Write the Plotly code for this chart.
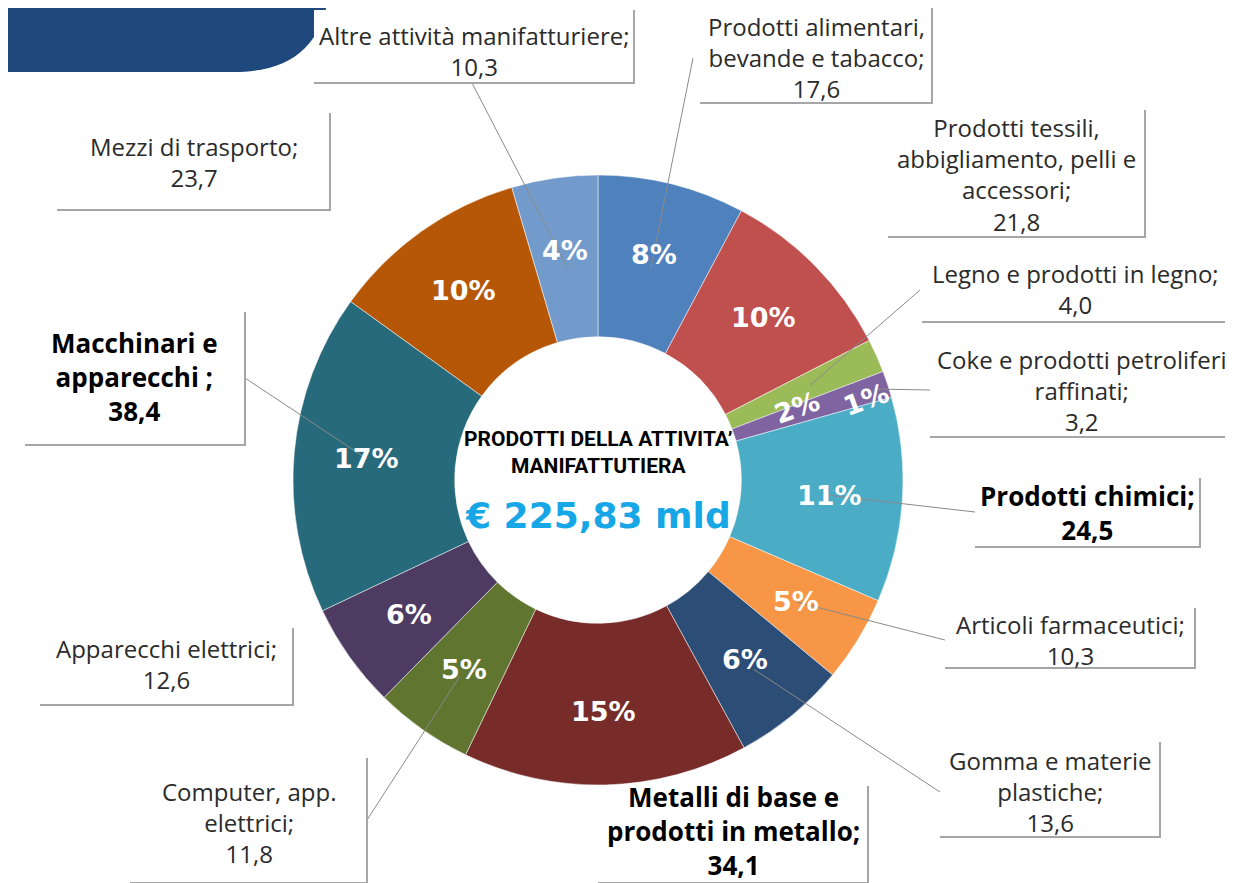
import math
import plotly.graph_objects as go

# Dati: valore aggiunto per settore (mld di euro)
settori = ["Prodotti alimentari, bevande e tabacco", "Prodotti tessili, abbigliamento, pelli e accessori",
           "Legno e prodotti in legno", "Coke e prodotti petroliferi raffinati", "Prodotti chimici",
           "Articoli farmaceutici", "Gomma e materie plastiche", "Metalli di base e prodotti in metallo",
           "Computer, app. elettrici", "Apparecchi elettrici", "Macchinari e apparecchi",
           "Mezzi di trasporto", "Altre attività manifatturiere"]
etichette = ["Prodotti alimentari,<br>bevande e tabacco;", "Prodotti tessili,<br>abbigliamento, pelli e<br>accessori;",
             "Legno e prodotti in legno;", "Coke e prodotti petroliferi<br>raffinati;", "Prodotti chimici;",
             "Articoli farmaceutici;", "Gomma e materie<br>plastiche;", "Metalli di base e<br>prodotti in metallo;",
             "Computer, app.<br>elettrici;", "Apparecchi elettrici;", "Macchinari e<br>apparecchi ;",
             "Mezzi di trasporto;", "Altre attività manifatturiere;"]
valori = [17.6, 21.8, 4.0, 3.2, 24.5, 10.3, 13.6, 34.1, 11.8, 12.6, 38.4, 23.7, 10.3]
percentuali = ["8%", "10%", "2%", "1%", "11%", "5%", "6%", "15%", "5%", "6%", "17%", "10%", "4%"]
grassetto = [False, False, False, False, True, False, False, True, False, False, True, False, False]
titolo_centro = "PRODOTTI DELLA ATTIVITA’<br>MANIFATTUTIERA"
totale_txt = "€ 225,83 mld"

colori = ["#4F81BD", "#C0504D", "#9BBB59", "#8064A2", "#4BACC6", "#F79646", "#2C4D75",
          "#772C2A", "#5F7530", "#4D3B62", "#276A7C", "#B65708", "#729ACA"]

# la pagina ha un margine di 8px: la figura parte da (8, 8)
OFF = 8
FW, FH = 1233 - OFF, 883 - OFF
cx, cy, R = 598, 480, 305

def X(p):
    return (p - OFF) / FW

def Y(p):
    return 1 - (p - OFF) / FH

# box: (x0, y0, x1, y1), centro testo y, punto di attacco linea, raggio della linea (px)
box = [
    ((700, 8, 932, 103), 57, (693, 58), 218),
    ((888, 110, 1145, 237), 174, None, None),
    ((922, 258, 1228, 322), 289, (920, 290), 232),
    ((930, 343, 1233, 437), 390, (930, 390), 290),
    ((975, 478, 1200, 547), 513, (975, 512), 232),
    ((945, 608, 1195, 668), 640, (945, 640), 234),
    ((940, 742, 1160, 837), 791, (940, 792), 245),
    ((598, 786, 868, 883), 831, None, None),
    ((130, 758, 367, 883), 822, (367, 820), 240),
    ((40, 628, 293, 705), 664, None, None),
    ((25, 312, 245, 445), 377, (245, 378), 232),
    ((57, 113, 330, 210), 162, None, None),
    ((314, 10, 634, 83), 51, (472, 83), 215),
]

tot = sum(valori)

fig = go.Figure(go.Pie(
    labels=settori, values=valori, textinfo="none",
    sort=False, direction="clockwise", rotation=0, hole=0.47,
    marker=dict(colors=colori, line=dict(color="white", width=0.5)),
    domain=dict(x=[X(cx - R), X(cx + R)], y=[Y(cy + R), Y(cy - R)]),
    showlegend=False, hovertemplate="%{label}: %{value}<extra></extra>",
))

shapes = []
annotations = []

# intestazione blu in alto a sinistra
shapes.append(dict(type="path", xref="paper", yref="paper",
                   path=(f"M {X(-10)} {Y(-10)} L {X(330)} {Y(-10)} L {X(328)} {Y(0)} "
                         f"C {X(320)} {Y(40)} {X(298)} {Y(72)} {X(233)} {Y(72)} L {X(-10)} {Y(72)} Z"),
                   fillcolor="#1F497D", line=dict(width=0)))

cum = 0
for i, v in enumerate(valori):
    ang = math.radians((cum + v / 2) / tot * 360)
    cum += v
    (x0, y0, x1, y1), ty, att, rl = box[i]
    if att is not None:
        ex = cx + rl * math.sin(ang)
        ey = cy - rl * math.cos(ang)
        shapes.append(dict(type="line", xref="paper", yref="paper",
                           x0=X(att[0]), y0=Y(att[1]), x1=X(ex), y1=Y(ey),
                           line=dict(color="#8a8a8a", width=1)))
    # etichette percentuali sulle fette (le due fette piccole ruotate come nell'originale)
    if v / tot < 0.03:
        rr, da, rot = (212, 4, -20) if i == 2 else (280, 1.5, -20)
    else:
        rr, da, rot = 232, 0, 0
    a2 = ang + math.radians(da)
    annotations.append(dict(xref="paper", yref="paper",
                            x=X(cx + rr * math.sin(a2)), y=Y(cy - rr * math.cos(a2)),
                            xanchor="center", yanchor="middle",
                            text=f"<b>{percentuali[i]}</b>", showarrow=False, textangle=rot,
                            font=dict(family="DejaVu Sans", size=27, color="white")))
    shapes.append(dict(type="rect", xref="paper", yref="paper",
                       x0=X(x0), y0=Y(y0), x1=X(x1), y1=Y(y1),
                       fillcolor="white", line=dict(width=0)))
    shapes.append(dict(type="path", xref="paper", yref="paper",
                       path=f"M {X(x1)} {Y(y0)} L {X(x1)} {Y(y1)} L {X(x0)} {Y(y1)}",
                       line=dict(color="#a6a6a6", width=2)))
    valore_txt = f"{v:.1f}".replace(".", ",")
    if grassetto[i]:
        testo = f"<b>{etichette[i]}<br>{valore_txt}</b>"
        font = dict(family="Open Sans", size=26, color="black")
    else:
        testo = f"{etichette[i]}<br>{valore_txt}"
        font = dict(family="Open Sans", size=24, color="#2b2b2b")
    annotations.append(dict(xref="paper", yref="paper", x=X((x0 + x1) / 2), y=Y(ty),
                            text=testo, showarrow=False, font=font,
                            xanchor="center", yanchor="middle", align="center"))

annotations.append(dict(xref="paper", yref="paper", x=X(cx), y=Y(452),
                        xanchor="center", yanchor="middle",
                        text=f"<b>{titolo_centro}</b>", showarrow=False,
                        font=dict(family="Roboto", size=21, color="black"), align="center"))
annotations.append(dict(xref="paper", yref="paper", x=X(cx), y=Y(516),
                        xanchor="center", yanchor="middle",
                        text=f"<b>{totale_txt}</b>", showarrow=False,
                        font=dict(family="DejaVu Sans", size=36, color="#17A7E6")))

fig.update_layout(
    width=FW, height=FH, margin=dict(l=0, r=0, t=0, b=0),
    paper_bgcolor="white", plot_bgcolor="white",
    shapes=shapes, annotations=annotations,
)

fig.write_html("out.html")
